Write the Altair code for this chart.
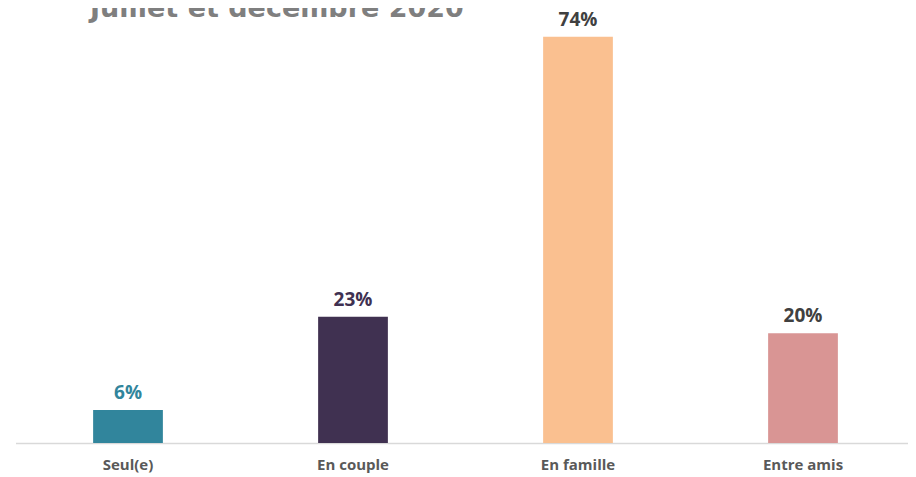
import altair as alt
import pandas as pd

categories = ["Seul(e)", "En couple", "En famille", "Entre amis"]
values = [6, 23, 74, 20]
labels = ["6%", "23%", "74%", "20%"]
bar_colors = ["#31859c", "#403151", "#fac090", "#d99594"]
label_colors = ["#31859c", "#403151", "#404040", "#404040"]
title_text = "Juillet et décembre 2020"

df = pd.DataFrame({"cat": categories, "val": values, "lab": labels,
                   "bc": bar_colors, "lc": label_colors})

x = alt.X("cat:N", sort=categories, title=None,
          scale=alt.Scale(paddingInner=0.69, paddingOuter=0.345, range=[0, 900]),
          axis=alt.Axis(labelAngle=0, ticks=False, domainColor="#d9d9d9", domainWidth=1.5,
                        labelFont="Open Sans", labelFontSize=15, labelFontWeight="bold",
                        labelColor="#595959", labelPadding=14, labelBaseline="top"))
y = alt.Y("val:Q", scale=alt.Scale(domain=[0, 77.4], nice=False), axis=None)

bars = alt.Chart(df).mark_bar().encode(x=x, y=y, color=alt.Color("bc:N", scale=None))
text = alt.Chart(df).mark_text(dy=-11, baseline="alphabetic", font="Open Sans",
                               fontSize=19, fontWeight="bold").encode(
    x=x, y=y, text="lab:N", color=alt.Color("lc:N", scale=None))
title = alt.Chart(pd.DataFrame({"t": [title_text]})).mark_text(
    align="left", baseline="alphabetic", font="DejaVu Sans", fontSize=27, fontWeight="bold",
    color="#7f7f7f").encode(x=alt.value(74.5), y=alt.value(-1.5), text="t:N")

chart = alt.layer(bars, text, title).properties(
    width=892.5, height=425,
    autosize=alt.AutoSizeParams(type="none"),
    padding={"left": 7.5, "top": 10, "right": 0, "bottom": 36},
).configure_view(stroke=None)

chart.save("out.html", embed_options={"renderer": "svg", "actions": False})
